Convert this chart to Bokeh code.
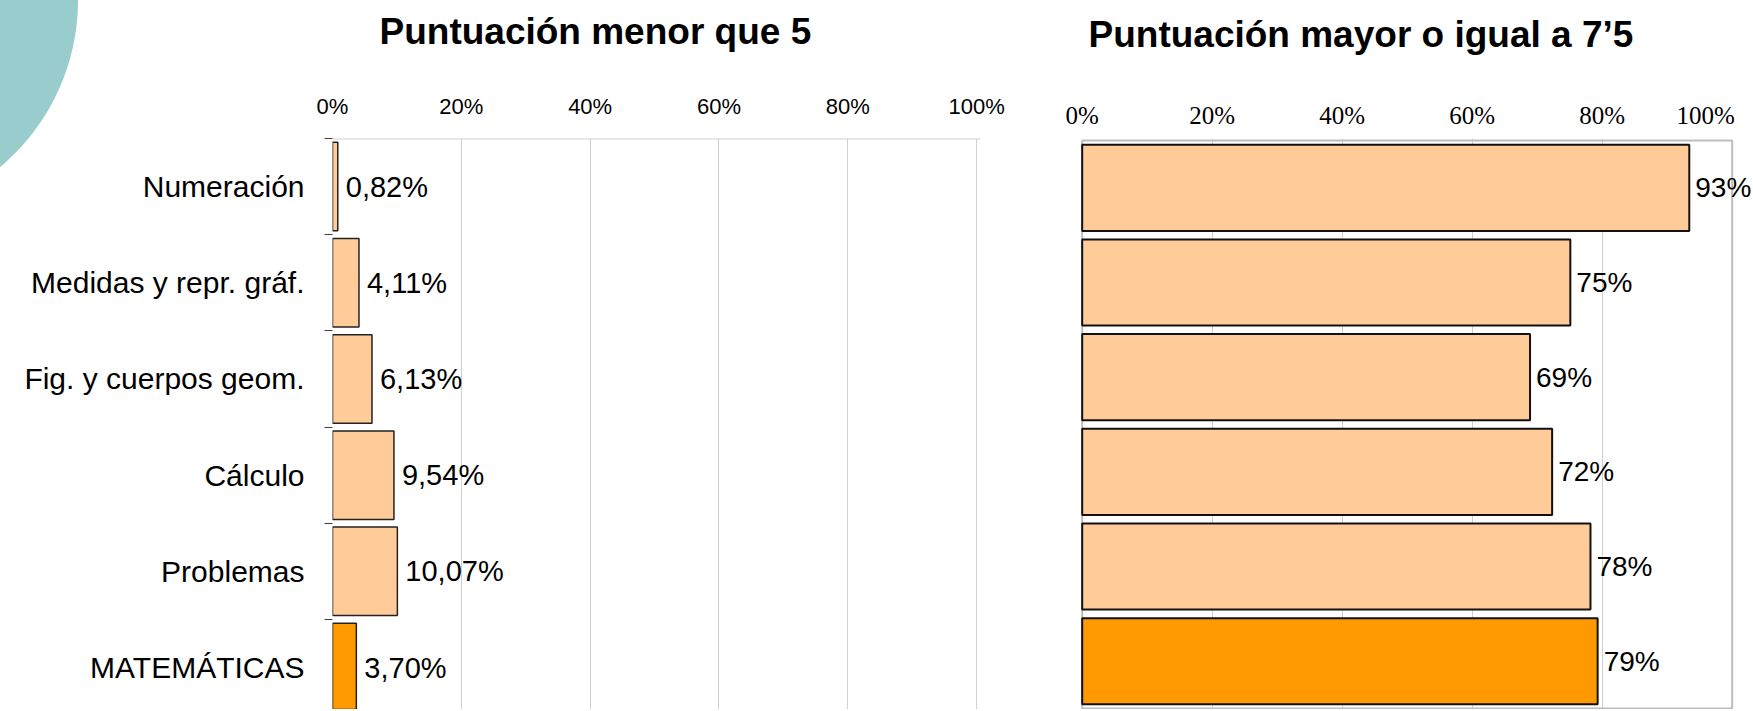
from bokeh.plotting import figure
from bokeh.layouts import row
from bokeh.models import (Range1d, FixedTicker, LabelSet, ColumnDataSource,
                          Span, PrintfTickFormatter, Title)
from bokeh.core.properties import value
from bokeh.embed import file_html
from bokeh.resources import INLINE

# ---------------- data ----------------
categories = ["Numeración", "Medidas y repr. gráf.", "Fig. y cuerpos geom.",
              "Cálculo", "Problemas", "MATEMÁTICAS"]
menor_5 = [0.82, 4.11, 6.13, 9.54, 10.07, 3.70]          # % puntuación < 5
mayor_7_5 = [93.4, 75.1, 68.9, 72.3, 78.2, 79.3]         # % puntuación >= 7'5
x_ticks = [0, 20, 40, 60, 80, 100]
title_left = "Puntuación menor que 5"
title_right = "Puntuación mayor o igual a 7’5"

# ---------------- styles ----------------
LIGHT = "#FFCC99"
DARK = "#FF9900"
GRID = "#d0d0d0"
BORDER = "#bdbdbd"
SANS = "Liberation Sans"
SERIF = "Liberation Serif"
H = 709

ypos = list(range(len(categories)))
colors = [DARK if c == "MATEMÁTICAS" else LIGHT for c in categories]

src1 = ColumnDataSource(dict(
    y=ypos, v=menor_5, color=colors,
    label=[("%.2f" % v).replace(".", ",") + "%" for v in menor_5]))
src2 = ColumnDataSource(dict(
    y=ypos, v=mayor_7_5, color=colors,
    label=["%d%%" % round(v) for v in mayor_7_5]))


def add_title(p, text, offset, gap):
    # empty spacer between the top axis and the title, then the title itself
    p.add_layout(Title(text=" ", text_font_size="1px", standoff=gap), "above")
    p.add_layout(Title(text=text, align="left", offset=offset, standoff=0,
                       text_font=SANS, text_font_size="37px",
                       text_font_style="bold", text_color="black"), "above")


# ---------------- left chart ----------------
p1 = figure(width=1040, height=H, output_backend="svg", toolbar_location=None,
            x_range=Range1d(0, 100.6), y_range=Range1d(5.436, -0.5),
            x_axis_location="above",
            min_border_left=332, min_border_right=60,
            min_border_top=135, min_border_bottom=0)
p1.title = None
p1.outline_line_color = None
p1.background_fill_color = "white"
p1.border_fill_color = None
# decorative teal circle of the slide, painted behind the transparent border
p1.styles = {"background": "radial-gradient(circle 218px at -140px 0px, "
                           "#99CCCC 217.5px, rgba(255,255,255,0) 218.5px)"}

xa = p1.xaxis[0]
xa.ticker = FixedTicker(ticks=x_ticks)
xa.formatter = PrintfTickFormatter(format="%d%%")
xa.axis_line_color = None
xa.major_tick_line_color = None
xa.major_tick_out = 0
xa.major_tick_in = 0
xa.minor_tick_line_color = None
xa.major_label_text_font = SANS
xa.major_label_text_font_size = "22px"
xa.major_label_text_color = "black"
xa.major_label_standoff = 20

ya = p1.yaxis[0]
ya.ticker = FixedTicker(ticks=ypos, minor_ticks=[i - 0.5 for i in range(len(categories) + 1)])
ya.major_label_overrides = {i: c for i, c in enumerate(categories)}
ya.axis_line_color = None
ya.major_tick_line_color = None
ya.major_tick_out = 0
ya.major_tick_in = 0
ya.minor_tick_out = 8
ya.minor_tick_in = 0
ya.minor_tick_line_color = "#404040"
ya.major_label_standoff = 20
ya.major_label_text_font = SANS
ya.major_label_text_font_size = "30px"
ya.major_label_text_color = "black"

p1.xgrid.ticker = FixedTicker(ticks=x_ticks)
p1.xgrid.grid_line_color = GRID
p1.ygrid.visible = False
p1.add_layout(Span(location=-0.5, dimension="width", line_color=GRID, line_width=2))

p1.hbar(y="y", right="v", left=0, height=0.92, fill_color="color",
        line_color="#222222", line_width=1.5, source=src1)
p1.add_layout(LabelSet(x="v", y="y", text="label", source=src1, x_offset=8,
                       text_baseline="middle", text_font=value(SANS),
                       text_font_size="29px", text_color="black"))
add_title(p1, title_left, 47, 36)

# ---------------- right chart ----------------
p2 = figure(width=713, height=H, output_backend="svg", toolbar_location=None,
            x_range=Range1d(-0.26, 103.28), y_range=Range1d(5.51, -0.521),
            x_axis_location="above", y_axis_location=None,
            min_border_left=40, min_border_right=0,
            min_border_top=138, min_border_bottom=0)
p2.title = None
p2.outline_line_color = None
p2.border_fill_color = None

xb = p2.xaxis[0]
xb.ticker = FixedTicker(ticks=x_ticks)
xb.formatter = PrintfTickFormatter(format="%d%%")
xb.major_label_overrides = {100: "100%" + "\u00a0" * 3}
xb.axis_line_color = None
xb.major_tick_line_color = None
xb.major_tick_out = 0
xb.major_tick_in = 0
xb.minor_tick_line_color = None
xb.major_label_text_font = SERIF
xb.major_label_text_font_size = "25px"
xb.major_label_text_color = "black"
xb.major_label_standoff = 10

p2.xgrid.ticker = FixedTicker(ticks=x_ticks[1:-1])
p2.xgrid.grid_line_color = GRID
p2.ygrid.visible = False
# plot-area border from 0% to 100%
p2.quad(left=[x_ticks[0]], right=[x_ticks[-1]], top=[-0.5], bottom=[len(categories) - 0.5],
        fill_color=None, line_color=BORDER, line_width=2)

p2.hbar(y="y", right="v", left=0, height=0.91, fill_color="color",
        line_color="#111111", line_width=2, source=src2)
p2.add_layout(LabelSet(x="v", y="y", text="label", source=src2, x_offset=6,
                       text_baseline="middle", text_font=value(SANS),
                       text_font_size="28px", text_color="black"))
add_title(p2, title_right, 8, 41)

layout = row(p1, p2)
open("out.html", "w").write(file_html(layout, INLINE))
